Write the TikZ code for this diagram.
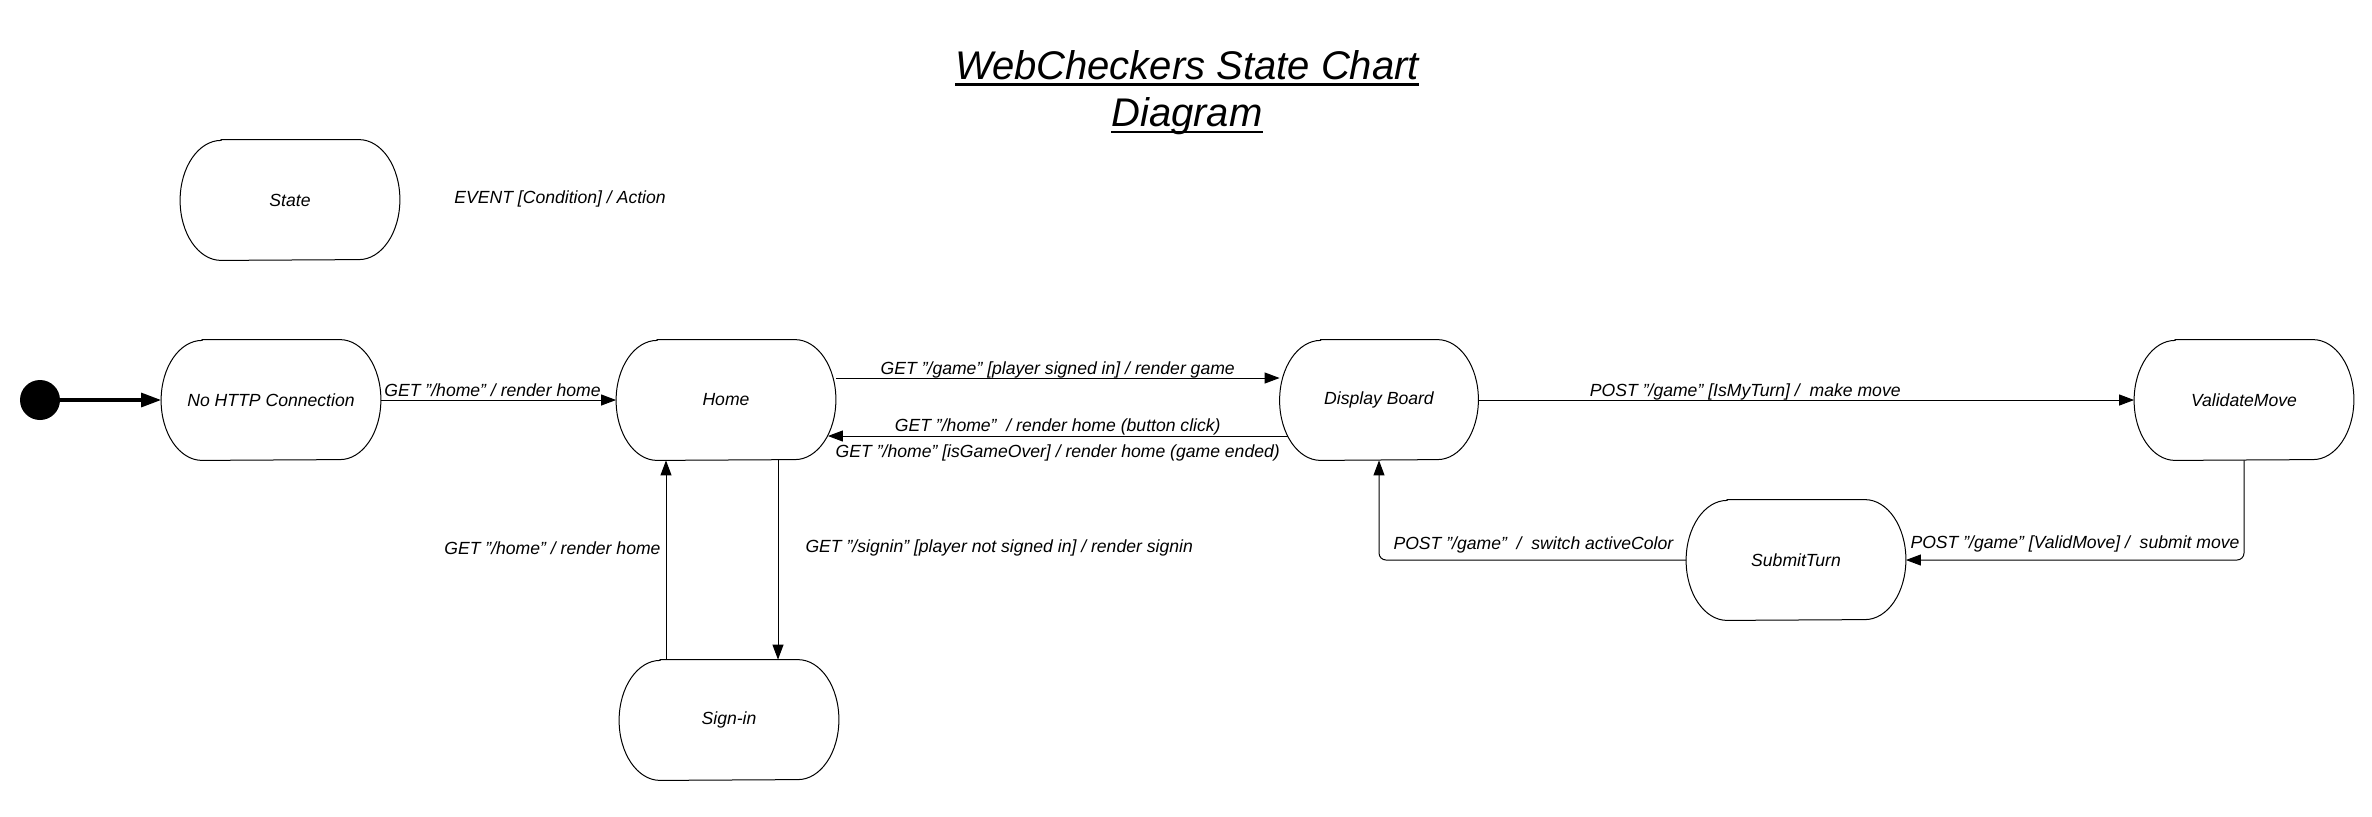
\documentclass[tikz,border=0pt]{standalone}
\usepackage{fontspec}
\setmainfont{Liberation Sans}
\usetikzlibrary{arrows.meta,calc}
\newsavebox\ulbox
\newcommand\titleul[1]{\sbox\ulbox{#1}\rlap{\rule[-3.2pt]{\wd\ulbox}{1.4pt}}\usebox\ulbox}
\begin{document}
\begin{tikzpicture}[x=0.5pt,y=-0.5pt,
  lab/.style={font=\fontsize{8.8}{10.5}\selectfont\itshape, inner sep=0pt},
  statebox/.style={lab, minimum width=#1, minimum height=60pt},
  statebox/.default=109.5pt,
  tr/.style={draw=black, line width=0.5pt, -{Triangle[length=7.5pt,width=5.5pt]}, rounded corners=3.5pt},
  outline/.style={draw=black, line width=0.5pt}
]
\useasboundingbox (0,0) rectangle (2372,816);

% title
\node[font=\fontsize{20}{23.6}\selectfont\itshape, align=center, inner sep=0pt] (title) at (1187,93)
  {\titleul{WebCheckers State Chart}\\\titleul{Diagram}};

% legend
\node[statebox] (legend) at (290,200) {State};
\node[lab, anchor=west] (legendtxt) at (454,199) {EVENT [Condition] / Action};

% states
\node[circle, fill=black, minimum size=20pt, inner sep=0pt] (init) at (40,400) {};
\node[statebox] (nohttp) at (271,400) {No HTTP Connection};
\node[statebox] (home) at (726,400) {Home};
\node[statebox=99pt] (display) at (1379,400) {Display Board};
\node[statebox] (validate) at (2244,400) {ValidateMove};
\node[statebox] (submit) at (1796,560) {SubmitTurn};
\node[statebox] (signin) at (729,720) {Sign-in};

\foreach \n in {legend,nohttp,home,display,validate,submit,signin}
  \draw[outline] ([xshift=20.5pt]\n.north west) -- ([xshift=-20.5pt]\n.north east)
    arc[start angle=90,end angle=-90,x radius=20.5pt,y radius=30pt]
    -- ([xshift=20.5pt]\n.south west)
    arc[start angle=270,end angle=90,x radius=20.5pt,y radius=30pt] -- cycle;

% transitions
\draw[line width=1.6pt, -{Triangle[length=10pt,width=7pt]}] (init) -- (nohttp);

\draw[tr] (nohttp) -- node[lab, pos=0, anchor=base west, xshift=1.5pt, yshift=2pt]
  {GET "/home" / render home} (home);

\draw[tr] ([yshift=11pt]home.east) -- node[lab, midway, anchor=base, yshift=2pt]
  {GET "/game" [player signed in] / render game} ([yshift=11pt]display.west);

\draw[tr] ([xshift=4pt,yshift=-18pt]display.west) --
  node[lab, midway, anchor=base, yshift=2.2pt] {GET "/home"\ \ / render home (button click)}
  node[lab, midway, anchor=base, yshift=-10.5pt] {GET "/home" [isGameOver] / render home (game ended)}
  ([xshift=-4pt,yshift=-18pt]home.east);

\draw[tr] (display) -- node[lab, pos=0.407, anchor=base, yshift=2pt]
  {POST "/game" [IsMyTurn] /\ \ make move} (validate);

\draw[tr] (validate.south) |- node[lab, pos=0.5, anchor=base east, xshift=-2pt, yshift=6pt]
  {POST "/game" [ValidMove] /\ \ submit move} (submit.east);

\draw[tr] (submit.west) -| node[lab, pos=0.5, anchor=base west, xshift=7pt, yshift=5.5pt]
  {POST "/game"\ \ /\ \ switch activeColor} (display.south);

\draw[tr] ([xshift=26pt]home.south) -- node[lab, midway, anchor=west, xshift=13.5pt, yshift=6pt]
  {GET "/signin" [player not signed in] / render signin} ([xshift=26pt]home.south |- signin.north);

\draw[tr] ([xshift=-30pt]home.south |- signin.north) -- node[lab, midway, anchor=east, xshift=-2.5pt, yshift=6pt]
  {GET "/home" / render home} ([xshift=-30pt]home.south);
\end{tikzpicture}
\end{document}
